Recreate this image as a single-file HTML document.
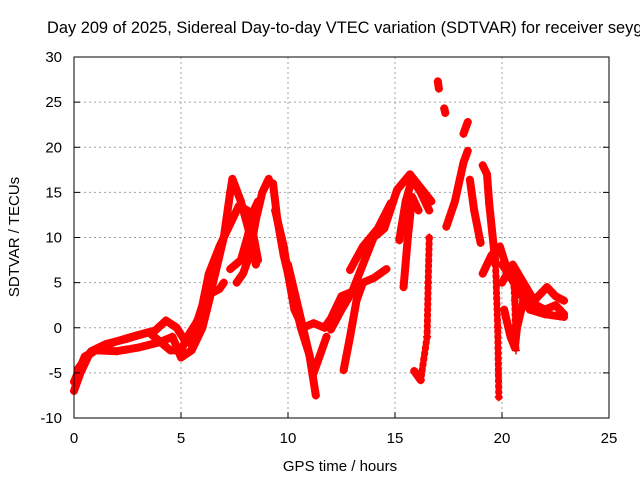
<!DOCTYPE html>
<html><head><meta charset="utf-8"><style>
body{margin:0;background:#fff;}
svg{display:block;font-family:"Liberation Sans",sans-serif;}
</style></head><body>
<svg id="chart" width="640" height="480">
<text x="47" y="33" font-size="16.4" fill="#000">Day 209 of 2025, Sidereal Day-to-day VTEC variation (SDTVAR) for receiver seyg</text>
<g id="grid"></g>
<g id="series"></g>
<rect x="74" y="57" width="535" height="361" fill="none" stroke="#000" stroke-width="1"/>
<g id="axes"></g>
<text x="340" y="471" font-size="15" text-anchor="middle">GPS time / hours</text>
<text x="19" y="237" font-size="15" text-anchor="middle" transform="rotate(-90 19 237)">SDTVAR / TECUs</text>
</svg>
<script>
const xTicks=[0,5,10,15,20,25];
const yTicks=[-10,-5,0,5,10,15,20,25,30];
const track1=[[0,-7],[0.3,-5],[0.7,-3],[1.2,-2.2],[2,-1.5],[3,-0.8],[3.8,-0.3],[4.3,0.8],[4.8,0],[5.2,-1.5],[5.6,-0.5],[6,2.5],[6.3,6],[6.8,9],[7.3,11.5],[7.7,13.5],[8.1,13],[8.4,10],[8.6,7.5]];
const track2=[[0,-6],[0.5,-3.2],[1,-2.5],[2,-2.6],[3,-2.2],[4,-1.6],[4.6,-1],[5,-3.3],[5.5,-2.5],[6,0],[6.4,3.8],[6.8,4.3],[7,5]];
const track2b=[[0.2,-4.5],[0.8,-2.6],[1.5,-1.8],[2.5,-1.2],[3.5,-0.5],[4,-1.5],[4.5,-2.5],[5,-2.5],[5.3,-1],[5.7,0.5],[6,2]];
const track3=[[5.5,-2],[6,1],[6.5,5],[7,10],[7.3,15],[7.4,16.5],[7.8,14],[8.2,10.5],[8.5,7]];
const track4=[[7.6,5],[7.9,6],[8.2,8],[8.5,12],[8.8,15],[9.1,16.5]];
const track5=[[7.3,6.5],[7.8,7.5],[8.1,10],[8.4,13],[8.6,14]];
const track6=[[9.3,16],[9.5,12],[9.8,8],[10.2,4],[10.6,0],[11,-3],[11.3,-7.5]];
const track7=[[9.4,13],[9.8,9],[10,6],[10.3,2],[10.7,0],[11.2,0.5],[11.7,0],[12,1],[12.5,3.5],[13,4],[13.5,5],[14,5.5],[14.6,6.5]];
const track8=[[10,7],[10.4,3],[10.8,-1],[11.2,-5],[11.5,-3],[11.8,-1]];
const track9=[[12,-0.2],[12.5,2],[13,4],[13.5,7],[14,10],[14.5,11],[15.1,15.3],[15.7,17],[16.2,15.5],[16.7,14]];
const track10=[[12.6,-4.7],[12.9,-1],[13.2,3],[13.5,5]];
const track11=[[12.9,6.4],[13.5,9],[14.2,11],[14.8,13.8]];
const track12=[[15.2,9.7],[15.5,14],[15.8,16.5],[16.2,15],[16.6,13]];
const track13=[[15.4,4.5],[15.6,10],[15.8,14.5],[16.1,13]];
const track14=[[15.9,-4.8],[16.2,-5.8]];
const track15=[[17.4,11.2],[17.8,14],[18.2,18.3],[18.4,19.6]];
const track16=[[18.2,21.5],[18.4,22.8]];
const track17=[[17,27.3],[17.05,26.5]];
const track18=[[17.3,24.3],[17.35,23.8]];
const track19=[[18.5,16.4],[18.7,13],[19,9.4]];
const track19b=[[19.1,18],[19.3,17],[19.4,13.8],[19.7,7]];
const track20=[[19.1,6],[19.5,8],[19.9,9],[20.3,6],[20.8,4],[21.3,2],[22,1.5],[22.9,1.2]];
const track21=[[20,5],[20.5,7],[21,5],[21.5,3],[22.1,4.5],[22.5,3.5],[22.9,3]];
const track22=[[20.1,2],[20.4,-1],[20.6,-2.2],[20.7,0],[21,3]];
const track23=[[20,7],[20.6,5],[21.2,4],[21.6,2.5],[22,2],[22.5,2.5],[22.9,1.5]];
const sparse1=[[16.6,10],[16.55,5],[16.5,-1],[16.2,-5.8]];
const sparse2=[[19.7,7],[19.8,0],[19.85,-7.7]];
const sparse3=[[20.5,7],[20.6,3],[20.65,-2.5]];
const tracks=[track1,track2,track2b,track3,track4,track5,track6,track7,track8,track9,track10,track11,track12,track13,track14,track15,track16,track17,track18,track19,track19b,track20,track21,track22,track23];
const sparse=[sparse1,sparse2,sparse3];
const NS='http://www.w3.org/2000/svg';
const X=t=>74+t*535/25;
const Y=v=>418-(v+10)*361/40;
const grid=document.getElementById('grid'),axes=document.getElementById('axes'),ser=document.getElementById('series');
xTicks.forEach(t=>{
 if(t>0&&t<25){const l=document.createElementNS(NS,'line');
 
 
 l.setAttribute('x1',X(t));l.setAttribute('x2',X(t));l.setAttribute('y1',57);l.setAttribute('y2',418);
 l.setAttribute('stroke','#a0a0a0');l.setAttribute('stroke-dasharray','2,3');grid.appendChild(l);}
 const k=document.createElementNS(NS,'line');
 
 
 k.setAttribute('x1',X(t));k.setAttribute('x2',X(t));k.setAttribute('y1',418);k.setAttribute('y2',412);k.setAttribute('stroke','#000');axes.appendChild(k);
 const tx=document.createElementNS(NS,'text');
 
 
 tx.setAttribute('x',X(t));tx.setAttribute('y',443);tx.setAttribute('font-size','15');tx.setAttribute('text-anchor','middle');tx.textContent=t;axes.appendChild(tx);
});
yTicks.forEach(v=>{
 if(v>-10&&v<30){const l=document.createElementNS(NS,'line');
 
 
 l.setAttribute('x1',74);l.setAttribute('x2',609);l.setAttribute('y1',Y(v));l.setAttribute('y2',Y(v));
 l.setAttribute('stroke','#a0a0a0');l.setAttribute('stroke-dasharray','2,3');grid.appendChild(l);}
 const k=document.createElementNS(NS,'line');
 
 
 k.setAttribute('x1',74);k.setAttribute('x2',80);k.setAttribute('y1',Y(v));k.setAttribute('y2',Y(v));k.setAttribute('stroke','#000');axes.appendChild(k);
 const k2=document.createElementNS(NS,'line');
 
 
 k2.setAttribute('x1',603);k2.setAttribute('x2',609);k2.setAttribute('y1',Y(v));k2.setAttribute('y2',Y(v));k2.setAttribute('stroke','#000');axes.appendChild(k2);
 const tx=document.createElementNS(NS,'text');
 
 
 tx.setAttribute('x',62);tx.setAttribute('y',Y(v)+5);tx.setAttribute('font-size','15');tx.setAttribute('text-anchor','end');tx.textContent=v;axes.appendChild(tx);
});
function drawTrack(tr,w,dash){
 const p=document.createElementNS(NS,'polyline');
 
 
 p.setAttribute('points',tr.map(d=>X(d[0])+','+Y(d[1])).join(' '));
 p.setAttribute('fill','none');p.setAttribute('stroke','#ff0000');p.setAttribute('stroke-width',w);p.setAttribute('stroke-linejoin','round');p.setAttribute('stroke-linecap','round');
 if(dash)p.setAttribute('stroke-dasharray',dash);
 ser.appendChild(p);
}
tracks.forEach(tr=>drawTrack(tr,8,null));
sparse.forEach(tr=>{drawTrack(tr,7,'1.5,4');drawTrack(tr,1.5,null);});
tracks.concat(sparse).forEach(tr=>{
 tr.forEach(d=>{
  const m=document.createElementNS(NS,'path');
  
  
  const x=X(d[0]),y=Y(d[1]);
  m.setAttribute('d',`M${x-4},${y}H${x+4}M${x},${y-4}V${y+4}`);
  m.setAttribute('stroke','#ff0000');m.setAttribute('stroke-width','1.5');
  ser.appendChild(m);
 });
});
</script>
</body></html>
